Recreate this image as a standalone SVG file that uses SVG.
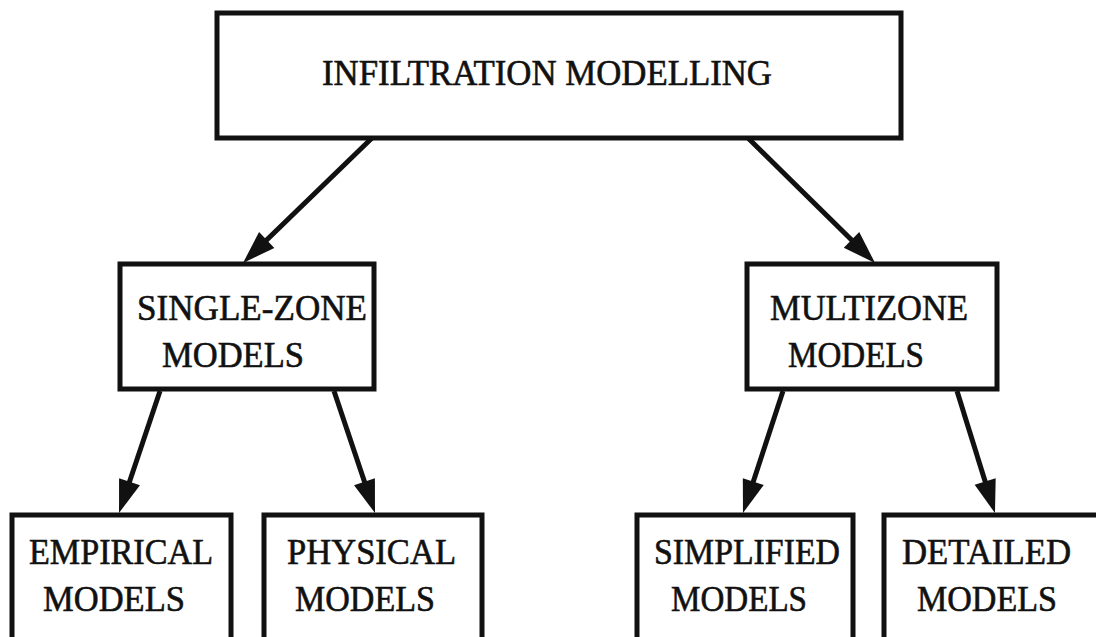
<svg xmlns="http://www.w3.org/2000/svg" width="1096" height="637" viewBox="0 0 1096 637">
<style>
.box{fill:#fff;stroke:#111;stroke-width:5}
.lbl{font-family:"Liberation Serif","Times New Roman",serif;font-size:36px;fill:#111;stroke:#111;stroke-width:0.6}
.conn{stroke:#111;stroke-width:5;fill:none;marker-end:url(#ah)}
</style>
<defs>
<marker id="ah" markerUnits="userSpaceOnUse" markerWidth="34" markerHeight="22" refX="23" refY="11" orient="auto" overflow="visible">
<path d="M0,0 L33,11 L0,22 z" fill="#111"/>
</marker>
</defs>
<rect width="1096" height="637" fill="#fff"/>
<g id="connectors">
<line class="conn" x1="372" y1="138" x2="250.2" y2="256"/>
<line class="conn" x1="748" y1="138" x2="867.9" y2="256"/>
<line class="conn" x1="160" y1="391" x2="122.2" y2="503.5"/>
<line class="conn" x1="334" y1="391" x2="371.8" y2="503.5"/>
<line class="conn" x1="783" y1="391" x2="746.1" y2="503.5"/>
<line class="conn" x1="957" y1="391" x2="992" y2="503.5"/>
</g>
<g id="infiltration">
<rect class="box" x="217" y="13" width="684" height="125"/>
<text class="lbl" x="322" y="85" textLength="450" lengthAdjust="spacingAndGlyphs">INFILTRATION MODELLING</text>
</g>
<g id="single-zone">
<rect class="box" x="120" y="264" width="254" height="125"/>
<text class="lbl" x="137" y="320" textLength="230" lengthAdjust="spacingAndGlyphs">SINGLE-ZONE</text>
<text class="lbl" x="162" y="367" textLength="142" lengthAdjust="spacingAndGlyphs">MODELS</text>
</g>
<g id="multizone">
<rect class="box" x="747" y="264" width="250" height="125"/>
<text class="lbl" x="770" y="320" textLength="198" lengthAdjust="spacingAndGlyphs">MULTIZONE</text>
<text class="lbl" x="788" y="367" textLength="136" lengthAdjust="spacingAndGlyphs">MODELS</text>
</g>
<g id="empirical">
<rect class="box" x="12" y="515" width="219" height="140"/>
<text class="lbl" x="29" y="564" textLength="184" lengthAdjust="spacingAndGlyphs">EMPIRICAL</text>
<text class="lbl" x="43" y="611" textLength="142" lengthAdjust="spacingAndGlyphs">MODELS</text>
</g>
<g id="physical">
<rect class="box" x="264" y="515" width="218" height="140"/>
<text class="lbl" x="287" y="564" textLength="169" lengthAdjust="spacingAndGlyphs">PHYSICAL</text>
<text class="lbl" x="295" y="611" textLength="140" lengthAdjust="spacingAndGlyphs">MODELS</text>
</g>
<g id="simplified">
<rect class="box" x="637" y="515" width="216" height="140"/>
<text class="lbl" x="654" y="564" textLength="186" lengthAdjust="spacingAndGlyphs">SIMPLIFIED</text>
<text class="lbl" x="671" y="611" textLength="136" lengthAdjust="spacingAndGlyphs">MODELS</text>
</g>
<g id="detailed">
<rect class="box" x="884" y="515" width="230" height="140"/>
<text class="lbl" x="902" y="564" textLength="169" lengthAdjust="spacingAndGlyphs">DETAILED</text>
<text class="lbl" x="917" y="611" textLength="140" lengthAdjust="spacingAndGlyphs">MODELS</text>
</g>
</svg>
